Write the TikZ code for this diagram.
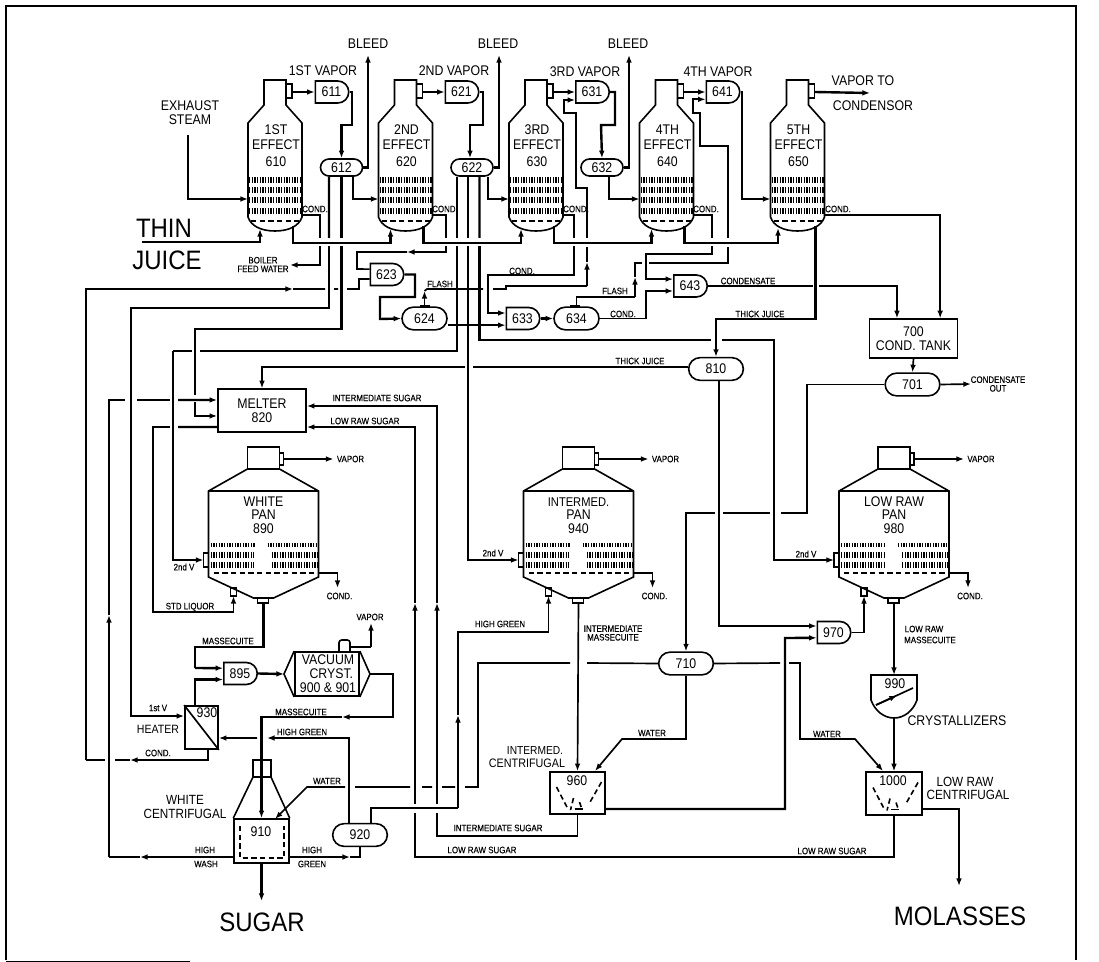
\documentclass[tikz,border=0pt]{standalone}
\usepackage{fontspec}
\setmainfont{Liberation Sans}
\newfontfamily\flab[FakeStretch=0.85,FakeBold=0.3]{Liberation Sans}
\newfontfamily\fmid[FakeStretch=0.88]{Liberation Sans}
\newfontfamily\fbig[FakeStretch=0.9]{Liberation Sans}
\usetikzlibrary{arrows.meta,shapes.misc}

\begin{document}
\begin{tikzpicture}[
  x=0.75pt, y=-0.75pt,
  pipe/.style={line width=1.8pt},
  thinp/.style={line width=1.25pt},
  arr/.style={pipe, -{Latex[length=2mm]}},
  tarr/.style={thinp, -{Latex[length=2mm]}},
  vessel/.style={draw, line width=1.2pt},
  tubes/.style={line width=4.5pt, dash pattern=on 1pt off 1pt},
  brk/.style={line width=1.2pt, dash pattern=on 4pt off 2.5pt},
  big/.style={font=\fbig\fontsize{20}{20}\selectfont, inner sep=0pt},
  mid/.style={font=\fmid\fontsize{10.5}{10.5}\selectfont, inner sep=0pt, align=center},
  mids/.style={font=\fmid\fontsize{10}{10.5}\selectfont, inner sep=0pt, align=center},
  lab/.style={font=\flab\fontsize{7}{6.5}\selectfont, inner sep=0pt, align=center},
  sdrum/.style={vessel, mid, rounded rectangle, minimum width=31.5pt, minimum height=12.75pt},
  drum/.style={vessel, mid, rounded rectangle, minimum width=33.75pt, minimum height=17pt},
  wdrum/.style={vessel, mid, rounded rectangle, minimum width=41pt, minimum height=17pt},
  dcap/.style={vessel, mid, rounded rectangle, rounded rectangle west arc=none, minimum width=25pt, minimum height=16.5pt},
  box/.style={vessel, mid, rectangle, line width=1.3pt},
  pics/effect/.style n args={3}{code={
    \draw[vessel] (-11,25) -- (-11,0) -- (11,0) -- (11,25) -- (27,43) -- (27,137) .. controls (24,146) and (14,151) .. (0,151) .. controls (-14,151) and (-24,146) .. (-27,137) -- (-27,43) -- cycle;
    \draw[vessel] (11,4) rectangle (17,18);
    \draw[tubes] (-26,100) -- (26,100);
    \draw[tubes] (-26,110) -- (26,110);
    \draw[tubes] (-26,120) -- (26,120);
    \draw[tubes] (-26,131) -- (26,131);
    \draw[brk] (-24,141) -- (24,141);
    \node[mid] (-t1) at (1,50) {#1};
    \node[mid] (-t2) at (1,65) {#2};
    \node[mid] (-t3) at (1,82) {#3};
    \coordinate (-noz) at (17,12);
    \coordinate (-in) at (-27,119);
    \coordinate (-cond) at (27,135);
    \coordinate (-jin) at (-15,149);
    \coordinate (-jout) at (18,146);
  }},
  pics/pan/.style n args={3}{code={
    \draw[vessel] (-16,0) rectangle (16,22);
    \draw[vessel] (16,6) rectangle (20,18);
    \draw[vessel] (-16,22) -- (-55,44) -- (-55,130) -- (-10,151) -- (10,151) -- (55,130) -- (55,44) -- (16,22);
    \draw[pipe] (-55,44) -- (55,44);
    \draw[vessel] (-60,106) rectangle (-55,120);
    \draw[vessel] (-6,151) rectangle (5,156);
    \draw[vessel] (-33,141) rectangle (-27,149);
    \draw[tubes, line width=3pt] (-53,98) -- (-8,98);
    \draw[tubes, line width=3pt] (4,98) -- (54,98);
    \draw[tubes] (-53,108) -- (-10,108);
    \draw[tubes] (8,108) -- (54,108);
    \draw[tubes] (-53,118) -- (-10,118);
    \draw[tubes] (8,118) -- (54,118);
    \draw[brk] (-50,126) -- (55,126);
    \node[mid] (-t1) at (0,55) {#1};
    \node[mid] (-t2) at (0,68) {#2};
    \node[mid] (-t3) at (0,82) {#3};
    \coordinate (-noz) at (20,12);
    \coordinate (-vap) at (70,12);
    \coordinate (-in) at (-60,113);
    \coordinate (-cond) at (55,126);
    \coordinate (-cdo) at (74,141);
    \coordinate (-feed) at (-30,149);
    \coordinate (-bot) at (0,156);
    \draw[tarr] (-noz) -- (-vap);
    \draw[tarr] (-cond) -| (-cdo);
    \node[lab] (-lv) at (87,12) {VAPOR};
    \node[lab] (-lc) at (76,149) {COND.};
  }},
  pics/funnel/.style={code={
    \draw[brk] (-21,-6) -- (-9,17);
    \draw[brk] (24,-11) -- (12,10);
    \draw[brk] (-4,5) -- (-7,17);
    \draw[brk] (2,9) -- (4,15);
    \draw[thinp] (-3,16) -- (5,16);
  }}
]
\useasboundingbox (0,0) rectangle (1099,962);
\draw[line width=1.8pt] (6,960) -- (6,6) -- (1076,6) -- (1076,960);
\draw[line width=0.7pt] (6,961) -- (190,961);

\pic (e1) at (275,80) {effect={1ST}{EFFECT}{610}};
\pic (e2) at (405.5,80) {effect={2ND}{EFFECT}{620}};
\pic (e3) at (536,80) {effect={3RD}{EFFECT}{630}};
\pic (e4) at (666.5,80) {effect={4TH}{EFFECT}{640}};
\pic (e5) at (797.5,80) {effect={5TH}{EFFECT}{650}};
\pic (wp) at (263.5,447) {pan={WHITE}{PAN}{890}};
\pic (ip) at (578.5,447) {pan={\fontsize{9.5}{10}\selectfont INTERMED.}{PAN}{940}};
\pic (lp) at (894,447) {pan={LOW RAW}{PAN}{980}};

\node[dcap] (p611) at (331.5,92) {611};
\node[dcap] (p621) at (461.5,92) {621};
\node[dcap] (p631) at (592,92) {631};
\node[dcap] (p641) at (722.5,92) {641};
\node[sdrum] (p612) at (341.5,167.5) {612};
\node[sdrum] (p622) at (472,167.5) {622};
\node[sdrum] (p632) at (602,167.5) {632};
\node[dcap] (p623) at (386.5,274.5) {623};
\node[drum] (p624) at (424.5,318.5) {624};
\node[dcap] (p633) at (522.5,318.5) {633};
\node[drum] (p634) at (576.5,318.5) {634};
\node[dcap] (p643) at (690,286) {643};
\node[wdrum] (p810) at (716,369) {810};
\node[wdrum] (p701) at (912.5,384.5) {701};
\node[wdrum] (p710) at (686,663.5) {710};
\node[wdrum] (p920) at (360,835) {920};
\node[dcap] (p895) at (240,673.5) {895};
\node[dcap] (p970) at (833.5,632.5) {970};
\node[box, minimum width=66pt, minimum height=29pt] (t700) at (913.5,338.5) {700\\COND. TANK};
\node[box, minimum width=66pt, minimum height=32pt] (m820) at (262,410.5) {MELTER\\820};
\node[box, minimum width=24.75pt, minimum height=32.25pt] (h930) at (201.5,727.5) {};
\node[mid] (t930) at (207,713) {930};
\node[box, minimum width=41pt, minimum height=33pt] (c910) at (261.5,841) {};
\node[mid] (t910) at (261,832) {910};
\node[box, minimum width=41pt, minimum height=31.5pt] (c960) at (577.5,793) {};
\node[mid] (t960) at (577,781) {960};
\node[box, minimum width=42pt, minimum height=32pt] (c1000) at (894,793.5) {};
\node[mid] (t1000) at (893,781) {1000};
\node[box, minimum width=48pt, minimum height=33pt] (v900) at (327,674) {};
\node[mid] (t900) at (328,674) {VACUUM\\\hspace{5pt}CRYST.\\900 \& 901};
\node[mid] (t990) at (895,684) {990};

\coordinate (cw) at (284,674);
\coordinate (ce) at (370,674);
\coordinate (v900top) at (350,647);
\coordinate (vap900) at (371,623);
\coordinate (t990top) at (894,675);
\coordinate (t990bot) at (894,718);
\coordinate (j5) at (778,228);
\coordinate (bfw) at (290,265);
\coordinate (w910) at (275,819);
\coordinate (w960) at (595,771);
\coordinate (w1000) at (883,771);
\coordinate (out701) at (971,384);
\coordinate (sugar) at (261.5,901);
\coordinate (molasses) at (959,886);
\coordinate (vcond) at (870,93);

\draw[vessel] (v900.north west) -- (cw) -- (v900.south west);
\draw[vessel] (v900.north east) -- (ce) -- (v900.south east);
\draw[vessel, rounded corners=2pt] (339,652) -- (339,640) -- (350,640) -- (350,652);
\draw[thinp] (h930.north west) -- (h930.south east);
\draw[vessel] (c910.north west) -- (253,777) -- (271,777) -- (c910.north east);
\draw[line width=0.8pt] (253,777) -- (253,760) -- (271,760) -- (271,777);
\draw[brk] (240,826) -- (240,858) -- (284,858) -- (284,826);
\pic (f960) at (577.5,793) {funnel};
\pic (f1000) at (894,793.5) {funnel};
\draw[vessel] (871,675) -- (917,675) -- (917,700) .. controls (913,711) and (904,718) .. (894,718) .. controls (884,718) and (875,711) .. (871,700) -- cycle;
\draw[thinp] (876,705) -- (913,688);
\draw[tarr] (876,705) -- (897,695.5);
\fill (420,305) rectangle (430,307);
\fill (570,305) rectangle (580,307);

\draw[arr] (188,135) |- (e1-in);
\draw[tarr] (e1-noz) -- (p611.west);
\draw[tarr] (e2-noz) -- (p621.west);
\draw[tarr] (e3-noz) -- (p631.west);
\draw[tarr] (e4-noz) -- (p641.west);
\draw[arr] (e5-noz) -- (vcond);
\draw[arr] (p611.east) -- (352,92) |- (341.5,125) -- (p612.north);
\draw[arr] (p621.east) -- (483,92) |- (470,125) -- ([xshift=-1.5pt]p622.north);
\draw[arr] (p631.east) -- (615,92) |- (601,125) -- (p632.north);
\draw[arr] (p612.east) -- (368,167.5) -- (368,55);
\draw[arr] (p622.east) -- (499,167.5) -- (499,55);
\draw[arr] (p632.east) -- (629,167.5) -- (629,55);
\draw[arr] ([xshift=8.6pt]p612.south) |- (e2-in);
\draw[arr] ([xshift=12pt]p622.south) |- (e3-in);
\draw[arr] ([xshift=5.25pt]p632.south) |- (e4-in);
\draw[arr] (p641.east) -- (742,92) |- (e5-in);

\draw[arr] (142,242) -| (e1-jin);
\draw[arr] (e1-jout) -- ++(0,17) -| (e2-jin);
\draw[arr] (e2-jout) -- ++(0,17) -| (e3-jin);
\draw[arr] (e3-jout) -- ++(0,17) -| (e4-jin);
\draw[arr] (e4-jout) -- ++(0,17) -| (j5);
\draw[arr] (e5-jout) |- (716,319) -- (p810.north);

\draw[thinp] (e1-cond) -| (320,238);
\draw[tarr] (320,246) |- (bfw);
\draw[thinp] (e2-cond) -| (446,238);
\draw[tarr] (446,246) |- (407,252);
\draw[thinp] (407,252) -| (357,269) -- ([yshift=4pt]p623.west);
\draw[thinp] (e3-cond) -| (574,238);
\draw[tarr] (574,246) |- (488,275) |- ([yshift=4.1pt]p633.west);
\draw[thinp] (e4-cond) -| (712,238);
\draw[tarr] (712,246) |- (646,254) |- ([yshift=5.2pt]p643.west);
\draw[tarr] (e5-cond) -| ([xshift=20pt]t700.north);

\draw[pipe] ([xshift=-9.4pt]p612.south) -- (329,238);
\draw[arr] (329,246) |- (131,308) |- ([yshift=8.6pt]h930.west);
\draw[pipe] (p612.south) -- (341.5,238);
\draw[pipe] (341.5,246) |- (195,329) -- (195,395);
\draw[arr] (195,402) |- ([yshift=-4.1pt]m820.west);
\draw[pipe] ([xshift=-11.25pt]p622.south) -- (457,238);
\draw[pipe] (457,246) |- (200,351) (192,351) -- (173,351);
\draw[arr] (173,351) |- (wp-in);
\draw[pipe] ([xshift=-3pt]p622.south) -- (468,238);
\draw[arr] (468,246) |- (ip-in);
\draw[pipe] ([xshift=5.6pt]p622.south) -- (479.5,238);
\draw[pipe] (479.5,246) |- (711,340);
\draw[arr] (722,340) -- (774,340) |- (lp-in);

\draw[tarr] ([xshift=5pt]h930.south) |- (130,760);
\draw[thinp] (130,760) -- (115,760) (105,760) -- (86,760);
\draw[tarr] (86,760) |- (293,289);
\draw[thinp] (293,289) -- (325,289) (334,289) -- (338,289) (347,289) -| (359,279) -- ([yshift=-3.4pt]p623.west);
\draw[arr] (p623.east) -| (415,297) -| (380,319) -- (p624.west);
\draw[tarr] (p624.north) -- (424.5,291);
\draw[thinp] (424.5,291) -- (427,289) -- (483,289) (493,289) -- (506,289) -- (506,286) -- (587,286);
\draw[tarr] (587,286) -- (587,262);
\draw[thinp] (587,262) -- (587,247);
\draw[tarr] (587,238) |- (576,188) |- (564,113) |- ([yshift=-6pt]p631.west);
\draw[tarr] ([yshift=-5pt]p624.east) -- ([yshift=-5pt]p633.west);
\draw[arr] (p633.east) -- (p634.west);
\draw[thinp] (p634.north) |- (635,297);
\draw[tarr] (635,297) -- (635,277);
\draw[thinp] (635,277) |- (642,263) (649,263) -| (728,247);
\draw[tarr] (728,238) |- (700,146) |- (693,113) |- ([yshift=-5.5pt]p641.west);
\draw[tarr] (p634.east) -| (646,291) -- ([yshift=-3.75pt]p643.west);
\draw[thinp] (p643.east) -- (813,286);
\draw[tarr] (819,286) -| ([xshift=-12.4pt]t700.north);
\draw[tarr] (t700.south) -- (p701.north);
\draw[tarr] (p701.east) -- (out701);
\draw[thinp] (p701.west) -| (807,513) -- (781,513) (770,513) -- (723,513);
\draw[tarr] (715,513) -| (p710.north);

\draw[pipe] ([yshift=1.5pt]p810.west) -- (473,367);
\draw[arr] (465,367) -| (m820.north);
\draw[tarr] ([xshift=2pt]p810.south) |- ([yshift=4.9pt]p970.west);
\draw[thinp] (c960.south) |- (437,836) -- (437,813);
\draw[tarr] (437,804) -- (437,603);
\draw[arr] (437,603) |- ([yshift=3.4pt]m820.east);
\draw[thinp] (c1000.south) |- (415,857) -- (415,813);
\draw[tarr] (415,804) -- (415,603);
\draw[arr] (415,603) |- ([yshift=-12.4pt]m820.east);

\draw[tarr] (109,857) -- (109,615);
\draw[pipe] (109,615) |- (125,400) (137,400) -- (170,400);
\draw[arr] (178,400) -- ([yshift=7.9pt]m820.west);
\draw[pipe] ([yshift=-12.4pt]m820.west) -- (178,427);
\draw[tarr] (170,427) -| (153,612) -| (wp-feed);
\draw[pipe] (wp-bot) |- (195,647) -- (195,668);
\draw[arr] (195,668) -- ([yshift=4pt]p895.west);
\draw[arr] ([xshift=-4.9pt]h930.north) |- ([yshift=-4.5pt]p895.west);
\draw[arr] (p895.east) -- (cw);
\draw[thinp] (v900top) -- (371,647);
\draw[tarr] (371,647) -- (vap900);
\draw[tarr] (ce) -- (393,674) |- (342,717);
\draw[arr] (342,717) -| (c910.north);
\draw[tarr] ([xshift=-8.25pt]p920.north) |- (267,738);
\draw[tarr] (257,738) -- ([yshift=-7.9pt]h930.east);
\draw[tarr] ([yshift=-12pt]c910.west) -- (140,857);
\draw[thinp] (140,857) -- (109,857);
\draw[tarr] ([yshift=-12pt]c910.east) -- (350,857);
\draw[thinp] (350,857) -| (p920.south);
\draw[arr] (c910.south) -- (sugar);
\draw[thinp] ([xshift=8.25pt]p920.north) |- (458,808);
\draw[tarr] (458,808) -- (458,715);
\draw[tarr] (458,715) |- (548.5,632) -- (ip-feed);
\draw[thinp] (p710.west) -- (587,663) (570,663) -| (478,787) -- (465,787) (455,787) -- (442,787) (432,787) -- (422,787) (410,787) -- (355,787);
\draw[tarr] (345,787) -- (307,787) -- (w910);
\draw[tarr] (p710.south) |- (622,739) -- (w960);
\draw[thinp] (p710.east) -- (780,663);
\draw[tarr] (789,663) -| (800,739) -- (855,739) -- (w1000);
\draw[tarr] (ip-bot) -- (c960.north);
\draw[arr] (lp-bot) -- (t990top);
\draw[arr] (t990bot) -- (c1000.north);
\draw[arr] ([yshift=-12pt]c960.east) -| (785,638) -- ([yshift=-4pt]p970.west);
\draw[tarr] (p970.east) -| (lp-feed);
\draw[arr] ([yshift=-11.6pt]c1000.east) -| (molasses);

\node[mid] (lsteam) at (190,113) {EXHAUST\\STEAM};
\node[mid] (lv1) at (323,71) {1ST VAPOR};
\node[mid] (lv2) at (454,71) {2ND VAPOR};
\node[mid] (lv3) at (585,72) {3RD VAPOR};
\node[mid] (lv4) at (718,72) {4TH VAPOR};
\node[mid] (lv5a) at (863,81) {VAPOR TO};
\node[mid] (lv5b) at (873,106) {CONDENSOR};
\node[mid] (lb1) at (368,44) {BLEED};
\node[mid] (lb2) at (498,44) {BLEED};
\node[mid] (lb3) at (628,44) {BLEED};
\node[big] (lthin) at (164,228) {THIN};
\node[big] (ljuice) at (167,260) {JUICE};
\node[lab] (lc1) at (315,209) {COND.};
\node[lab] (lc2) at (445,209) {COND.};
\node[lab] (lc3) at (576,209) {COND.};
\node[lab] (lc4) at (706,209) {COND.};
\node[lab] (lc5) at (838,209) {COND.};
\node[lab] (lbfw) at (263,264.5) {BOILER\\FEED WATER};
\node[lab] (lf1) at (440,284) {FLASH};
\node[lab] (lc6) at (522,271) {COND.};
\node[lab] (lf2) at (615,291) {FLASH};
\node[lab] (lc7) at (623,314) {COND.};
\node[lab] (lcs) at (748,281) {CONDENSATE};
\node[lab] (ltj1) at (760,314) {THICK JUICE};
\node[lab] (ltj2) at (640,361) {THICK JUICE};
\node[lab] (lout) at (998,384) {CONDENSATE\\OUT};
\node[lab] (lis1) at (377,398) {INTERMEDIATE SUGAR};
\node[lab] (lls1) at (365,421) {LOW RAW SUGAR};
\node[lab] (l2v1) at (184,567) {2nd V};
\node[lab] (l2v2) at (493,553) {2nd V};
\node[lab] (l2v3) at (806,554) {2nd V};
\node[lab] (lstd) at (190,607) {STD LIQUOR};
\node[lab] (lma1) at (228,641) {MASSECUITE};
\node[lab] (lvap) at (370,617) {VAPOR};
\node[lab] (lma2) at (301,712) {MASSECUITE};
\node[lab] (lhg1) at (302,732) {HIGH GREEN};
\node[lab] (l1v) at (158,708) {1st V};
\node[mids, font=\fmid\fontsize{9}{10}\selectfont] (lheat) at (158,729) {HEATER};
\node[lab] (lc8) at (158,753) {COND.};
\node[lab] (lw1) at (327,781) {WATER};
\node[mids] (lwc) at (185,807) {WHITE\\CENTRIFUGAL};
\node[lab] (lhw1) at (205,850) {HIGH};
\node[lab] (lhw2) at (206,864) {WASH};
\node[lab] (lhw3) at (312,850) {HIGH};
\node[lab] (lhw4) at (312,864) {GREEN};
\node[big] (lsugar) at (262,922) {SUGAR};
\node[lab] (lhg2) at (500,624) {HIGH GREEN};
\node[lab] (lim) at (613,633) {INTERMEDIATE\\MASSECUITE};
\node[lab] (lw2) at (652,733) {WATER};
\node[mids, font=\fmid\fontsize{8.7}{10}\selectfont] (lic1) at (535,751) {INTERMED.};
\node[mids, font=\fmid\fontsize{9.2}{10}\selectfont] (lic2) at (527,763) {CENTRIFUGAL};
\node[lab] (lis2) at (498,828) {INTERMEDIATE SUGAR};
\node[lab] (lls2) at (482,850) {LOW RAW SUGAR};
\node[lab] (lls3) at (832,851) {LOW RAW SUGAR};
\node[lab] (lrm1) at (924,629) {LOW RAW};
\node[lab] (lrm2) at (930,640) {MASSECUITE};
\node[mid] (lcry) at (957,721) {CRYSTALLIZERS};
\node[lab] (lw3) at (827,734) {WATER};
\node[mids] (llc1) at (965,782) {LOW RAW};
\node[mids] (llc2) at (968,795) {CENTRIFUGAL};
\node[big] (lmol) at (960,916) {MOLASSES};
\end{tikzpicture}
\end{document}
